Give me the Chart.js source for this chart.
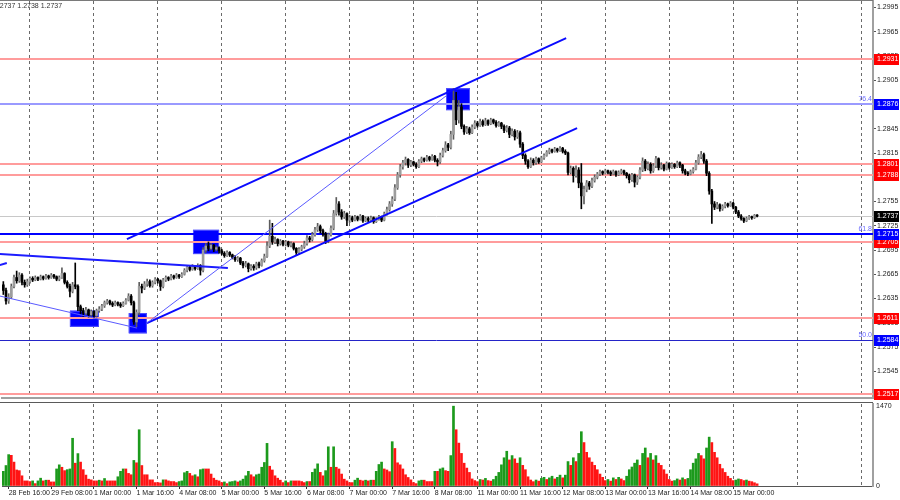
<!DOCTYPE html>
<html lang="en">
<head>
<meta charset="UTF-8" />
<title>GBPUSD H1</title>
<script src="https://cdn.jsdelivr.net/npm/chart.js"></script>
<style>
  body { margin: 0; background: #fff; }
  .wrap { position: relative; width: 900px; height: 500px; overflow: hidden; }
  canvas { position: absolute; left: 0; }
  #priceChart { top: 0; }
  #volumeChart { top: 400px; }
</style>
</head>
<body>
<div class="wrap">
  <canvas id="priceChart" width="900" height="400"></canvas>
  <canvas id="volumeChart" width="900" height="100"></canvas>
</div>
<script>
// hourly candles, 28 Feb 14:00 .. 15 Mar 09:00
const opens = [
  1.2652,1.2645,1.2632,1.2637,1.2650,1.2661,1.2657,1.2664,1.2655,1.2652,1.2656,1.2660,
  1.2658,1.2661,1.2659,1.2662,1.2660,1.2663,1.2661,1.2664,1.2662,1.2659,1.2661,1.2666,
  1.2655,1.2650,1.2644,1.2652,1.2650,1.2625,1.2620,1.2617,1.2621,1.2615,1.2619,1.2614,
  1.2620,1.2622,1.2626,1.2630,1.2632,1.2629,1.2627,1.2630,1.2628,1.2626,1.2629,1.2633,
  1.2638,1.2630,1.2606,1.2618,1.2650,1.2648,1.2653,1.2656,1.2651,1.2655,1.2659,1.2657,
  1.2650,1.2658,1.2661,1.2659,1.2663,1.2661,1.2664,1.2662,1.2665,1.2670,1.2674,1.2671,
  1.2675,1.2672,1.2676,1.2670,1.2695,1.2700,1.2697,1.2701,1.2696,1.2698,1.2694,1.2691,
  1.2688,1.2692,1.2689,1.2686,1.2683,1.2685,1.2679,1.2676,1.2678,1.2672,1.2675,1.2673,
  1.2678,1.2676,1.2682,1.2687,1.2700,1.2712,1.2705,1.2708,1.2703,1.2706,1.2702,1.2705,
  1.2701,1.2703,1.2697,1.2692,1.2696,1.2699,1.2703,1.2710,1.2708,1.2714,1.2720,1.2724,
  1.2719,1.2715,1.2706,1.2714,1.2722,1.2740,1.2752,1.2742,1.2736,1.2740,1.2732,1.2735,
  1.2732,1.2736,1.2733,1.2737,1.2731,1.2734,1.2732,1.2735,1.2730,1.2733,1.2736,1.2732,
  1.2740,1.2745,1.2752,1.2758,1.2772,1.2788,1.2798,1.2803,1.2807,1.2800,1.2804,1.2801,
  1.2798,1.2805,1.2808,1.2806,1.2810,1.2807,1.2811,1.2806,1.2804,1.2812,1.2818,1.2825,
  1.2822,1.2838,1.2880,1.2856,1.2872,1.2848,1.2841,1.2845,1.2840,1.2847,1.2852,1.2849,
  1.2854,1.2850,1.2855,1.2851,1.2856,1.2853,1.2849,1.2852,1.2848,1.2843,1.2846,1.2838,
  1.2842,1.2835,1.2840,1.2826,1.2812,1.2805,1.2798,1.2806,1.2803,1.2808,1.2804,1.2809,
  1.2812,1.2816,1.2819,1.2817,1.2820,1.2818,1.2821,1.2817,1.2815,1.2791,1.2796,1.2787,
  1.2794,1.2778,1.2762,1.2770,1.2778,1.2774,1.2781,1.2785,1.2789,1.2792,1.2790,1.2793,
  1.2791,1.2789,1.2792,1.2788,1.2791,1.2793,1.2790,1.2787,1.2782,1.2788,1.2779,1.2785,
  1.2794,1.2805,1.2796,1.2801,1.2793,1.2799,1.2808,1.2797,1.2800,1.2795,1.2802,1.2797,
  1.2801,1.2798,1.2803,1.2800,1.2793,1.2790,1.2789,1.2792,1.2795,1.2803,1.2810,1.2813,
  1.2805,1.2790,1.2768,1.2752,1.2748,1.2751,1.2746,1.2749,1.2752,1.2750,1.2753,1.2748,
  1.2742,1.2737,1.2734,1.2731,1.2734,1.2736,1.2735,1.2738
];
const highs = [
  1.2656,1.2648,1.2641,1.2653,1.2664,1.2669,1.2667,1.2666,1.2658,1.2659,1.2662,1.2662,
  1.2663,1.2662,1.2664,1.2663,1.2665,1.2664,1.2666,1.2665,1.2663,1.2663,1.2673,1.2667,
  1.2657,1.2653,1.2655,1.2679,1.2652,1.2627,1.2623,1.2624,1.2622,1.2621,1.2620,1.2622,
  1.2625,1.2628,1.2632,1.2634,1.2633,1.2631,1.2632,1.2631,1.2630,1.2631,1.2635,1.2641,
  1.2640,1.2632,1.2621,1.2655,1.2653,1.2656,1.2659,1.2658,1.2657,1.2661,1.2660,1.2658,
  1.2660,1.2663,1.2662,1.2665,1.2664,1.2666,1.2665,1.2667,1.2672,1.2676,1.2675,1.2677,
  1.2676,1.2678,1.2677,1.2698,1.2703,1.2705,1.2703,1.2702,1.2700,1.2699,1.2696,1.2693,
  1.2694,1.2693,1.2690,1.2688,1.2687,1.2686,1.2681,1.2681,1.2679,1.2677,1.2677,1.2680,
  1.2680,1.2684,1.2690,1.2705,1.2732,1.2728,1.2711,1.2709,1.2708,1.2707,1.2707,1.2706,
  1.2705,1.2704,1.2698,1.2698,1.2701,1.2706,1.2713,1.2712,1.2717,1.2723,1.2728,1.2726,
  1.2721,1.2717,1.2716,1.2725,1.2744,1.2760,1.2755,1.2745,1.2743,1.2741,1.2738,1.2737,
  1.2738,1.2737,1.2739,1.2738,1.2736,1.2736,1.2737,1.2736,1.2735,1.2738,1.2737,1.2742,
  1.2748,1.2755,1.2761,1.2776,1.2791,1.2801,1.2806,1.2810,1.2808,1.2806,1.2805,1.2803,
  1.2807,1.2810,1.2809,1.2812,1.2811,1.2813,1.2812,1.2808,1.2815,1.2821,1.2829,1.2827,
  1.2842,1.2895,1.2890,1.2880,1.2876,1.2850,1.2848,1.2847,1.2850,1.2855,1.2854,1.2857,
  1.2856,1.2858,1.2856,1.2858,1.2857,1.2855,1.2854,1.2853,1.2850,1.2849,1.2848,1.2845,
  1.2844,1.2843,1.2842,1.2828,1.2814,1.2807,1.2809,1.2808,1.2810,1.2809,1.2811,1.2814,
  1.2818,1.2821,1.2820,1.2822,1.2821,1.2823,1.2822,1.2819,1.2816,1.2799,1.2798,1.2799,
  1.2797,1.2802,1.2774,1.2781,1.2780,1.2784,1.2788,1.2791,1.2794,1.2793,1.2795,1.2794,
  1.2793,1.2794,1.2793,1.2793,1.2795,1.2794,1.2791,1.2789,1.2790,1.2789,1.2787,1.2797,
  1.2809,1.2807,1.2804,1.2803,1.2802,1.2811,1.2809,1.2803,1.2801,1.2804,1.2803,1.2803,
  1.2802,1.2805,1.2804,1.2801,1.2795,1.2792,1.2794,1.2797,1.2806,1.2813,1.2817,1.2815,
  1.2807,1.2792,1.2770,1.2755,1.2754,1.2752,1.2751,1.2754,1.2753,1.2755,1.2754,1.2749,
  1.2744,1.2739,1.2735,1.2736,1.2738,1.2737,1.2739,1.2739
];
const lows = [
  1.2640,1.2628,1.2629,1.2635,1.2648,1.2654,1.2655,1.2652,1.2649,1.2650,1.2654,1.2656,
  1.2657,1.2657,1.2658,1.2658,1.2659,1.2659,1.2660,1.2660,1.2657,1.2657,1.2660,1.2653,
  1.2648,1.2637,1.2642,1.2647,1.2620,1.2616,1.2613,1.2615,1.2612,1.2613,1.2611,1.2612,
  1.2618,1.2620,1.2624,1.2628,1.2627,1.2625,1.2626,1.2626,1.2624,1.2625,1.2628,1.2632,
  1.2627,1.2603,1.2600,1.2615,1.2642,1.2646,1.2650,1.2649,1.2649,1.2653,1.2654,1.2645,
  1.2648,1.2656,1.2657,1.2658,1.2659,1.2660,1.2660,1.2661,1.2664,1.2668,1.2669,1.2670,
  1.2670,1.2671,1.2664,1.2668,1.2692,1.2694,1.2695,1.2693,1.2694,1.2691,1.2689,1.2686,
  1.2687,1.2687,1.2684,1.2681,1.2681,1.2677,1.2673,1.2674,1.2668,1.2670,1.2670,1.2671,
  1.2673,1.2675,1.2680,1.2686,1.2698,1.2702,1.2703,1.2700,1.2701,1.2700,1.2700,1.2699,
  1.2699,1.2695,1.2688,1.2690,1.2694,1.2697,1.2701,1.2705,1.2706,1.2712,1.2718,1.2716,
  1.2712,1.2703,1.2704,1.2712,1.2720,1.2738,1.2738,1.2733,1.2734,1.2725,1.2729,1.2730,
  1.2731,1.2731,1.2732,1.2729,1.2730,1.2730,1.2731,1.2728,1.2729,1.2732,1.2730,1.2731,
  1.2738,1.2743,1.2749,1.2756,1.2770,1.2785,1.2795,1.2800,1.2797,1.2798,1.2799,1.2796,
  1.2797,1.2803,1.2804,1.2805,1.2805,1.2806,1.2804,1.2799,1.2802,1.2810,1.2816,1.2818,
  1.2820,1.2832,1.2850,1.2852,1.2845,1.2838,1.2839,1.2838,1.2839,1.2845,1.2847,1.2848,
  1.2848,1.2849,1.2849,1.2850,1.2851,1.2847,1.2848,1.2845,1.2840,1.2841,1.2834,1.2836,
  1.2831,1.2833,1.2822,1.2808,1.2801,1.2796,1.2797,1.2800,1.2801,1.2802,1.2803,1.2807,
  1.2811,1.2814,1.2815,1.2816,1.2816,1.2817,1.2815,1.2813,1.2788,1.2789,1.2779,1.2785,
  1.2772,1.2746,1.2752,1.2767,1.2770,1.2772,1.2779,1.2783,1.2787,1.2788,1.2789,1.2789,
  1.2787,1.2788,1.2786,1.2787,1.2789,1.2788,1.2784,1.2778,1.2780,1.2773,1.2776,1.2783,
  1.2792,1.2793,1.2794,1.2790,1.2791,1.2797,1.2794,1.2795,1.2793,1.2794,1.2795,1.2796,
  1.2796,1.2797,1.2797,1.2790,1.2788,1.2787,1.2788,1.2790,1.2794,1.2801,1.2808,1.2802,
  1.2787,1.2764,1.2728,1.2745,1.2746,1.2743,1.2744,1.2747,1.2748,1.2749,1.2746,1.2740,
  1.2735,1.2732,1.2729,1.2730,1.2733,1.2733,1.2734,1.2736
];
const closes = [
  1.2645,1.2632,1.2637,1.2650,1.2661,1.2657,1.2664,1.2655,1.2652,1.2656,1.2660,1.2658,
  1.2661,1.2659,1.2662,1.2660,1.2663,1.2661,1.2664,1.2662,1.2659,1.2661,1.2666,1.2655,
  1.2650,1.2644,1.2652,1.2650,1.2625,1.2620,1.2617,1.2621,1.2615,1.2619,1.2614,1.2620,
  1.2622,1.2626,1.2630,1.2632,1.2629,1.2627,1.2630,1.2628,1.2626,1.2629,1.2633,1.2638,
  1.2630,1.2606,1.2618,1.2650,1.2648,1.2653,1.2656,1.2651,1.2655,1.2659,1.2657,1.2650,
  1.2658,1.2661,1.2659,1.2663,1.2661,1.2664,1.2662,1.2665,1.2670,1.2674,1.2671,1.2675,
  1.2672,1.2676,1.2670,1.2695,1.2700,1.2697,1.2701,1.2696,1.2698,1.2694,1.2691,1.2688,
  1.2692,1.2689,1.2686,1.2683,1.2685,1.2679,1.2676,1.2678,1.2672,1.2675,1.2673,1.2678,
  1.2676,1.2682,1.2687,1.2700,1.2712,1.2705,1.2708,1.2703,1.2706,1.2702,1.2705,1.2701,
  1.2703,1.2697,1.2692,1.2696,1.2699,1.2703,1.2710,1.2708,1.2714,1.2720,1.2724,1.2719,
  1.2715,1.2706,1.2714,1.2722,1.2740,1.2752,1.2742,1.2736,1.2740,1.2732,1.2735,1.2732,
  1.2736,1.2733,1.2737,1.2731,1.2734,1.2732,1.2735,1.2730,1.2733,1.2736,1.2732,1.2740,
  1.2745,1.2752,1.2758,1.2772,1.2788,1.2798,1.2803,1.2807,1.2800,1.2804,1.2801,1.2798,
  1.2805,1.2808,1.2806,1.2810,1.2807,1.2811,1.2806,1.2804,1.2812,1.2818,1.2825,1.2822,
  1.2838,1.2880,1.2856,1.2872,1.2848,1.2841,1.2845,1.2840,1.2847,1.2852,1.2849,1.2854,
  1.2850,1.2855,1.2851,1.2856,1.2853,1.2849,1.2852,1.2848,1.2843,1.2846,1.2838,1.2842,
  1.2835,1.2840,1.2826,1.2812,1.2805,1.2798,1.2806,1.2803,1.2808,1.2804,1.2809,1.2812,
  1.2816,1.2819,1.2817,1.2820,1.2818,1.2821,1.2817,1.2815,1.2791,1.2796,1.2787,1.2794,
  1.2778,1.2762,1.2770,1.2778,1.2774,1.2781,1.2785,1.2789,1.2792,1.2790,1.2793,1.2791,
  1.2789,1.2792,1.2788,1.2791,1.2793,1.2790,1.2787,1.2782,1.2788,1.2779,1.2785,1.2794,
  1.2805,1.2796,1.2801,1.2793,1.2799,1.2808,1.2797,1.2800,1.2795,1.2802,1.2797,1.2801,
  1.2798,1.2803,1.2800,1.2793,1.2790,1.2789,1.2792,1.2795,1.2803,1.2810,1.2813,1.2805,
  1.2790,1.2768,1.2752,1.2748,1.2751,1.2746,1.2749,1.2752,1.2750,1.2753,1.2748,1.2742,
  1.2737,1.2734,1.2731,1.2734,1.2736,1.2735,1.2738,1.2737
];
const volumes = [
  270,377,578,565,440,295,283,188,94,94,82,94,
  44,94,144,94,107,107,75,75,314,390,345,283,
  301,314,879,420,597,440,301,201,126,113,94,94,
  107,94,138,94,94,94,94,170,270,314,314,232,
  207,471,427,1036,377,207,207,113,113,63,63,57,
  113,113,94,82,82,63,82,94,245,270,232,188,
  207,170,301,314,314,314,220,144,107,94,63,75,
  44,75,82,94,75,94,126,188,270,207,170,207,
  220,345,433,785,364,295,188,144,107,63,94,63,
  94,94,94,94,82,63,82,82,251,314,408,251,
  188,283,722,345,722,345,314,220,126,94,63,63,
  107,144,107,94,107,94,107,107,270,396,440,314,
  295,264,816,691,427,390,314,207,157,113,63,44,
  94,107,107,82,82,82,270,270,314,333,283,270,
  560,1470,1036,790,600,420,330,250,130,100,80,120,
  110,140,100,90,120,180,250,390,520,640,480,560,
  500,420,520,380,300,170,110,80,110,90,140,160,
  120,150,180,130,160,200,150,200,450,380,520,450,
  600,1000,800,620,520,440,380,300,220,160,100,120,
  90,150,120,160,130,100,180,300,350,420,480,380,
  600,700,520,600,480,560,420,380,300,220,120,90,
  100,130,110,150,120,140,300,420,500,600,560,500,
  700,900,800,620,520,400,320,250,180,140,100,110,
  130,120,100,110,90,80,60,40
];

// axis labels
const tickBars = [2, 18, 34, 50, 66, 82, 98, 114, 130, 146, 162, 178, 194, 210, 226, 242, 258, 274];
const tickLabels = ['28 Feb 16:00', '29 Feb 08:00', '1 Mar 00:00', '1 Mar 16:00', '4 Mar 08:00',
  '5 Mar 00:00', '5 Mar 16:00', '6 Mar 08:00', '7 Mar 00:00', '7 Mar 16:00', '8 Mar 08:00',
  '11 Mar 00:00', '11 Mar 16:00', '12 Mar 08:00', '13 Mar 00:00', '13 Mar 16:00',
  '14 Mar 08:00', '15 Mar 00:00'];
const priceTicks = [1.2545, 1.2575, 1.2605, 1.2635, 1.2665, 1.2695, 1.2725, 1.2755, 1.2785,
  1.2815, 1.2845, 1.2875, 1.2905, 1.2935, 1.2965, 1.2995];
const volumeTicks = [0, 1470];

// levels and drawn objects (bar index, price)
const levelPrices = [1.2931, 1.2801, 1.2788, 1.2705, 1.2611, 1.2517];
const fiboPrices = [1.2876, 1.2715, 1.2584];
const fiboNames = ['76.4', '61.8', '50.0'];
const lastPrice = 1.2737;
const headerText = '1.2737 1.2738 1.2737';
const boxBars = [[25.0, 35.9], [47.1, 53.9], [71.2, 81.0], [166.2, 175.2]];
const boxPrices = [[1.2620, 1.2600], [1.2617, 1.2592], [1.2720, 1.2690], [1.2895, 1.2868]];
const channelLines = [[46.4, 1.27085, 211.3, 1.29570], [53.9, 1.26047, 215.4, 1.28457]];
const thinLines = [[53.9, 1.26047, 166.6, 1.28865], [-1.3, 1.26381, 50.2, 1.25985]];
const wedgeLines = [[-1.3, 1.26900, 84.3, 1.26727], [-1.3, 1.26764, 1.3, 1.26789]];

const totalBars = 327;
const slots = Array.from({ length: totalBars }, (_, i) => i);
const fontFamily = '"Liberation Sans Narrow", "Liberation Sans", sans-serif';
const font = { family: fontFamily, size: 7 };
const canvasFont = '7px ' + fontFamily;

const isUp = closes.map((c, i) => c >= opens[i]);
const volColors = volumes.map((v, i) => (i === 0 || v > volumes[i - 1]) ? '#1c9a1c' : '#ff1414');

const gridColor = ctx => (ctx.index >= 10 && (ctx.index - 10) % 24 === 0) ? '#6a6a6a' : 'transparent';
const noPadding = s => { s.paddingTop = 0; s.paddingBottom = 0; s.paddingLeft = 0; s.paddingRight = 0; };

function lineSet(ctx, x, y, list, color, width) {
  ctx.strokeStyle = color;
  ctx.lineWidth = width;
  list.forEach(l => {
    ctx.beginPath();
    ctx.moveTo(x.getPixelForValue(l[0]), y.getPixelForValue(l[1]));
    ctx.lineTo(x.getPixelForValue(l[2]), y.getPixelForValue(l[3]));
    ctx.stroke();
  });
}

const priceOverlay = {
  id: 'priceOverlay',
  beforeDatasetsDraw(chart) {
    const { ctx, chartArea: a, scales: { x, y } } = chart;
    ctx.save();
    ctx.beginPath();
    ctx.rect(0, a.top, a.right, a.bottom - a.top);
    ctx.clip();
    // rectangles sit behind the candles
    boxBars.forEach((b, k) => {
      const x1 = x.getPixelForValue(b[0]), x2 = x.getPixelForValue(b[1]);
      const y1 = y.getPixelForValue(boxPrices[k][0]), y2 = y.getPixelForValue(boxPrices[k][1]);
      ctx.fillStyle = '#0000ff';
      ctx.fillRect(x1, y1, x2 - x1, y2 - y1);
      ctx.strokeStyle = '#5050ff';
      ctx.lineWidth = 1;
      ctx.strokeRect(x1 + 0.5, y1 + 0.5, x2 - x1 - 1, y2 - y1 - 1);
    });
    const hline = (v, color, w) => {
      const py = Math.round(y.getPixelForValue(v)) + (w % 2 ? 0.5 : 0);
      ctx.strokeStyle = color;
      ctx.lineWidth = w;
      ctx.beginPath();
      ctx.moveTo(0, py);
      ctx.lineTo(a.right, py);
      ctx.stroke();
    };
    hline(lastPrice, '#c8c8c8', 1);
    levelPrices.forEach(v => hline(v, '#ff9c9c', 2));
    hline(fiboPrices[0], '#9a9aff', 2);
    hline(fiboPrices[1], '#0000ff', 2);
    hline(fiboPrices[2], '#2424c8', 1);
    ctx.restore();
  },
  afterDatasetsDraw(chart) {
    const { ctx, chartArea: a, scales: { x, y } } = chart;
    ctx.save();
    ctx.beginPath();
    ctx.rect(0, a.top, a.right, a.bottom - a.top);
    ctx.clip();
    lineSet(ctx, x, y, channelLines, '#0a0aff', 2);
    lineSet(ctx, x, y, wedgeLines, '#1c1cff', 2);
    lineSet(ctx, x, y, thinLines, '#5a5aff', 1);
    // fibo captions
    ctx.font = canvasFont;
    ctx.fillStyle = '#6a6aff';
    ctx.textAlign = 'right';
    ctx.textBaseline = 'bottom';
    fiboPrices.forEach((v, k) => ctx.fillText(fiboNames[k], a.right - 1, y.getPixelForValue(v) - 1));
    ctx.restore();
  },
  afterDraw(chart) {
    const { ctx, chartArea: a, scales: { y } } = chart;
    ctx.save();
    ctx.font = canvasFont;
    ctx.textBaseline = 'middle';
    ctx.textAlign = 'left';
    const tag = (v, fill) => {
      const py = Math.round(y.getPixelForValue(v));
      ctx.fillStyle = fill;
      ctx.fillRect(a.right + 1, py - 5, 25, 11);
      ctx.fillStyle = '#ffffff';
      ctx.fillText(v.toFixed(4), a.right + 4, py + 0.5);
    };
    levelPrices.forEach(v => tag(v, '#ff0000'));
    fiboPrices.forEach(v => tag(v, '#0000ff'));
    tag(lastPrice, '#000000');
    // window frame and OHLC header
    ctx.fillStyle = '#7a7a7a';
    ctx.fillRect(0, 0, a.right, 1);
    ctx.fillStyle = '#333333';
    ctx.textBaseline = 'top';
    ctx.fillText(headerText, -6, 3);
    ctx.restore();
  }
};

const volumeOverlay = {
  id: 'volumeOverlay',
  afterDraw(chart) {
    const { ctx, chartArea: a } = chart;
    ctx.save();
    ctx.fillStyle = '#5a5a5a';
    ctx.fillRect(0, a.top - 2, a.right, 1);
    ctx.restore();
  }
};

new Chart(document.getElementById('priceChart'), {
  type: 'bar',
  data: {
    labels: slots,
    datasets: [
      {
        data: opens.map((o, i) => [o, closes[i]]),
        backgroundColor: isUp.map(u => u ? '#9d9d9d' : '#000000'),
        barThickness: 2,
        minBarLength: 1,
        grouped: false
      },
      {
        data: lows.map((l, i) => [l, highs[i]]),
        backgroundColor: isUp.map(u => u ? '#5c5c5c' : '#000000'),
        barThickness: 1,
        grouped: false
      }
    ]
  },
  options: {
    responsive: false,
    animation: false,
    events: [],
    layout: { padding: { left: 2, top: 1, right: 0, bottom: 2 } },
    plugins: { legend: { display: false }, tooltip: { enabled: false } },
    scales: {
      x: {
        offset: true,
        grid: { offset: false, color: gridColor, drawTicks: false },
        border: { color: '#a0a0a0', width: 2, dash: [3, 3] },
        ticks: { display: false },
        afterFit: s => { noPadding(s); s.height = 0; }
      },
      y: {
        position: 'right',
        min: 1.2512,
        max: 1.3003,
        afterBuildTicks: s => { s.ticks = priceTicks.map(v => ({ value: v })); },
        afterFit: s => { noPadding(s); s.width = 27; },
        grid: { drawOnChartArea: false, tickLength: 3, color: '#555555' },
        border: { color: '#a0a0a0', width: 2 },
        ticks: { padding: 1, color: '#222222', font: font, callback: v => v.toFixed(4) }
      }
    }
  },
  plugins: [priceOverlay]
});

new Chart(document.getElementById('volumeChart'), {
  type: 'bar',
  data: {
    labels: slots,
    datasets: [{
      data: volumes,
      backgroundColor: volColors,
      barThickness: 2,
      grouped: false
    }]
  },
  options: {
    responsive: false,
    animation: false,
    events: [],
    layout: { padding: { left: 2, top: 4, right: 0, bottom: 0 } },
    plugins: { legend: { display: false }, tooltip: { enabled: false } },
    scales: {
      x: {
        offset: true,
        grid: {
          offset: false,
          color: gridColor,
          tickLength: 3,
          tickColor: ctx => tickBars.includes(ctx.index) ? '#333333' : 'transparent'
        },
        border: { color: '#555555', width: 1, dash: [3, 3] },
        ticks: {
          autoSkip: false,
          maxRotation: 0,
          minRotation: 0,
          align: 'start',
          padding: 0,
          color: '#222222',
          font: font,
          callback: (v, i) => {
            const k = tickBars.indexOf(i);
            return k >= 0 ? tickLabels[k] : '';
          }
        },
        afterFit: s => { noPadding(s); s.height = 14; }
      },
      y: {
        position: 'right',
        min: 0,
        max: 1510,
        afterBuildTicks: s => { s.ticks = volumeTicks.map(v => ({ value: v })); },
        afterFit: s => { noPadding(s); s.width = 27; },
        grid: { drawOnChartArea: false, drawTicks: false },
        border: { color: '#a0a0a0', width: 2 },
        ticks: { padding: 3, color: '#222222', font: font, callback: v => String(v) }
      }
    }
  },
  plugins: [volumeOverlay]
});
</script>
</body>
</html>
